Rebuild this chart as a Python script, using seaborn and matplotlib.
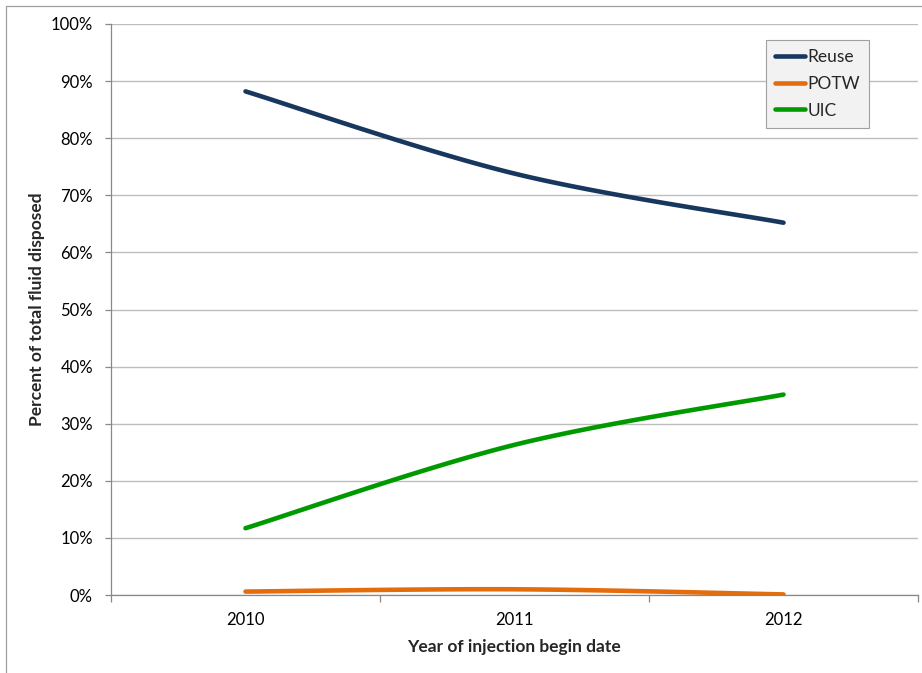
import numpy as np
import pandas as pd
import matplotlib
matplotlib.use("Agg")
import matplotlib.pyplot as plt
from matplotlib.lines import Line2D
from matplotlib.ticker import FixedLocator, PercentFormatter
import seaborn as sns

# Share of total disposed fluid by disposal route, per injection start year
years = ["2010", "2011", "2012"]
reuse = [88.2, 73.8, 65.2]
potw = [0.6, 1.0, 0.1]
uic = [11.7, 26.3, 35.1]

series_names = ["Reuse", "POTW", "UIC"]
series_values = [reuse, potw, uic]
colors = {"Reuse": "#17375E", "POTW": "#E46C0A", "UIC": "#009A00"}


def smooth(xs, ys, n=60):
    """Catmull-Rom style Bezier smoothing through the given points."""
    pts = np.column_stack([xs, ys]).astype(float)
    m = len(pts)
    out = []
    for i in range(m - 1):
        p0 = pts[max(i - 1, 0)]
        p1 = pts[i]
        p2 = pts[i + 1]
        p3 = pts[min(i + 2, m - 1)]
        c1 = p1 + (p2 - p0) / 6.0
        c2 = p2 - (p3 - p1) / 6.0
        t = np.linspace(0, 1, n)[:, None]
        seg = ((1 - t) ** 3) * p1 + 3 * ((1 - t) ** 2) * t * c1 + 3 * (1 - t) * t ** 2 * c2 + t ** 3 * p2
        out.append(seg if i == 0 else seg[1:])
    curve = np.vstack(out)
    return curve[:, 0], curve[:, 1]


frames = []
pos = np.arange(len(years))
for name, vals in zip(series_names, series_values):
    sx, sy = smooth(pos, vals)
    frames.append(pd.DataFrame({"x": sx, "y": sy, "series": name}))
df = pd.concat(frames, ignore_index=True)

sns.set_theme(style="white")
plt.rcParams["font.family"] = ["Lato", "DejaVu Sans"]

fig = plt.figure(figsize=(9.22, 6.73), dpi=100)
W, H = 922, 673
ax = fig.add_axes([111 / W, (H - 595) / H, (918 - 111) / W, (595 - 24) / H])

LW = 3.3
sns.lineplot(data=df, x="x", y="y", hue="series", hue_order=series_names,
             palette=colors, sort=False, estimator=None, units="series",
             linewidth=LW, ax=ax, legend=True)
for ln in ax.get_lines():
    ln.set_solid_capstyle("round")

ax.set_xlim(-0.5, len(years) - 0.5)
ax.set_ylim(0, 100)

# Y axis: gridlines every 10%, outward tick marks
ax.yaxis.set_major_locator(FixedLocator(np.arange(0, 101, 10)))
ax.yaxis.set_major_formatter(PercentFormatter(decimals=0))
ax.grid(axis="y", color="#bdbdbd", linewidth=1.0)
ax.grid(axis="x", visible=False)
ax.tick_params(axis="y", which="major", direction="out", length=4, width=0.9,
               color="#888888", pad=9, labelsize=12, labelcolor="#000000", left=True)

# X axis: labels at category centres, tick marks between categories
ax.set_xticks(pos)
ax.set_xticklabels(years)
ax.xaxis.set_minor_locator(FixedLocator(np.arange(-0.5, len(years), 1.0)))
ax.tick_params(axis="x", which="major", length=0, pad=12, labelsize=12, labelcolor="#000000")
ax.tick_params(axis="x", which="minor", direction="out", length=5, width=0.9,
               color="#888888", bottom=True)

for side in ["top", "right"]:
    ax.spines[side].set_visible(False)
for side in ["left", "bottom"]:
    ax.spines[side].set_color("#888888")
    ax.spines[side].set_linewidth(0.9)

ax.set_xlabel("Year of injection begin date", fontsize=12.5, fontweight="bold", va="center")
ax.set_ylabel("Percent of total fluid disposed", fontsize=12.5, fontweight="bold", va="center")
ax.xaxis.set_label_coords((514 - 111) / 807, (595 - 647) / 571)
ax.yaxis.set_label_coords((37 - 111) / 807, (595 - 309) / 571)

handles = [Line2D([0], [0], color=colors[n], linewidth=LW, solid_capstyle="round") for n in series_names]
leg = ax.legend(handles, series_names, loc="upper left",
                bbox_to_anchor=((766 - 111) / 807, (595 - 40) / 571),
                frameon=True, fancybox=False, framealpha=1, facecolor="#f2f2f2",
                edgecolor="#a0a0a0", fontsize=12.5, handlelength=1.75, handletextpad=0.1,
                labelspacing=0.62, borderpad=0.52, borderaxespad=0)
leg.get_frame().set_linewidth(0.8)

# Chart area border (top and left edges visible)
fig.add_artist(Line2D([6 / W, 6 / W], [0, 1 - 6 / H], color="#a0a0a0", linewidth=0.9))
fig.add_artist(Line2D([6 / W, 1], [1 - 6 / H, 1 - 6 / H], color="#a0a0a0", linewidth=0.9))

fig.savefig("out.png", dpi=100, facecolor="white")
